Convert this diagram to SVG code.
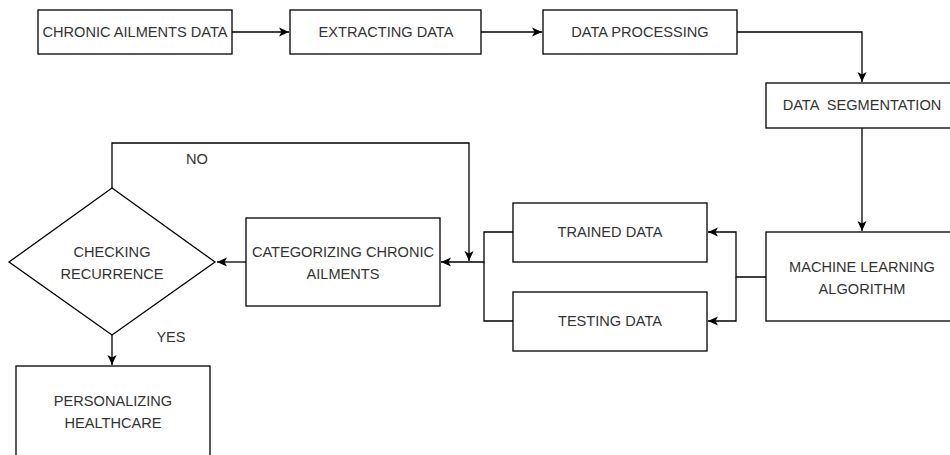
<svg xmlns="http://www.w3.org/2000/svg" width="950" height="455" viewBox="0 0 950 455">
<style>
.box{fill:#fff;stroke:#000;stroke-width:1.3}
.t{font-family:"Liberation Sans",Arial,sans-serif;font-size:14.6px;fill:#333;text-anchor:middle;white-space:pre}
.c{fill:none;stroke:#000;stroke-width:1.3}
</style>
<defs>
<marker id="arr" markerUnits="userSpaceOnUse" markerWidth="12" markerHeight="10" refX="10" refY="5" orient="auto">
<path d="M0,0.5 L10,5 L0,9.5 L2.5,5 Z" fill="#000"/>
</marker>
</defs>
<rect width="950" height="455" fill="#fff"/>
<g id="connectors">
<path class="c" d="M232,32 H289" marker-end="url(#arr)"/>
<path class="c" d="M481,32 H542" marker-end="url(#arr)"/>
<path class="c" d="M737,32 H862 V82" marker-end="url(#arr)"/>
<path class="c" d="M862,128 V231" marker-end="url(#arr)"/>
<path class="c" d="M766,277 H736 V232 H708" marker-end="url(#arr)"/>
<path class="c" d="M736,277 V321 H708" marker-end="url(#arr)"/>
<path class="c" d="M513,232 H484 V262 H441" marker-end="url(#arr)"/>
<path class="c" d="M513,321 H484 V262"/>
<path class="c" d="M112,188 V143 H469 V261" marker-end="url(#arr)"/>
<path class="c" d="M246,262 H217" marker-end="url(#arr)"/>
<path class="c" d="M112,335 V365" marker-end="url(#arr)"/>
<text class="t" x="197" y="164">NO</text>
<text class="t" x="171" y="342">YES</text>
</g>
<g id="chronic-ailments-data">
<rect class="box" x="38" y="10" width="194" height="44"/>
<text class="t" x="135" y="37">CHRONIC AILMENTS DATA</text>
</g>
<g id="extracting-data">
<rect class="box" x="290" y="10" width="191" height="44"/>
<text class="t" x="386" y="37">EXTRACTING DATA</text>
</g>
<g id="data-processing">
<rect class="box" x="543" y="10" width="194" height="44"/>
<text class="t" x="640" y="37">DATA PROCESSING</text>
</g>
<g id="data-segmentation">
<rect class="box" x="766" y="83" width="194" height="45"/>
<text class="t" x="862" y="110">DATA  SEGMENTATION</text>
</g>
<g id="machine-learning-algorithm">
<rect class="box" x="766" y="232" width="194" height="89"/>
<text class="t" x="862" y="272">MACHINE LEARNING</text>
<text class="t" x="862" y="294">ALGORITHM</text>
</g>
<g id="trained-data">
<rect class="box" x="513" y="203" width="194" height="59"/>
<text class="t" x="610" y="237">TRAINED DATA</text>
</g>
<g id="testing-data">
<rect class="box" x="513" y="292" width="194" height="59"/>
<text class="t" x="610" y="326">TESTING DATA</text>
</g>
<g id="categorizing-chronic-ailments">
<rect class="box" x="246" y="218" width="194" height="88"/>
<text class="t" x="343" y="257">CATEGORIZING CHRONIC</text>
<text class="t" x="343" y="279">AILMENTS</text>
</g>
<g id="checking-recurrence">
<path class="box" d="M112,188 L215,262 L112,335 L9,262 Z"/>
<text class="t" x="112" y="257">CHECKING</text>
<text class="t" x="112" y="279">RECURRENCE</text>
</g>
<g id="personalizing-healthcare">
<rect class="box" x="16" y="366" width="194" height="95"/>
<text class="t" x="113" y="406">PERSONALIZING</text>
<text class="t" x="113" y="428">HEALTHCARE</text>
</g>
</svg>
